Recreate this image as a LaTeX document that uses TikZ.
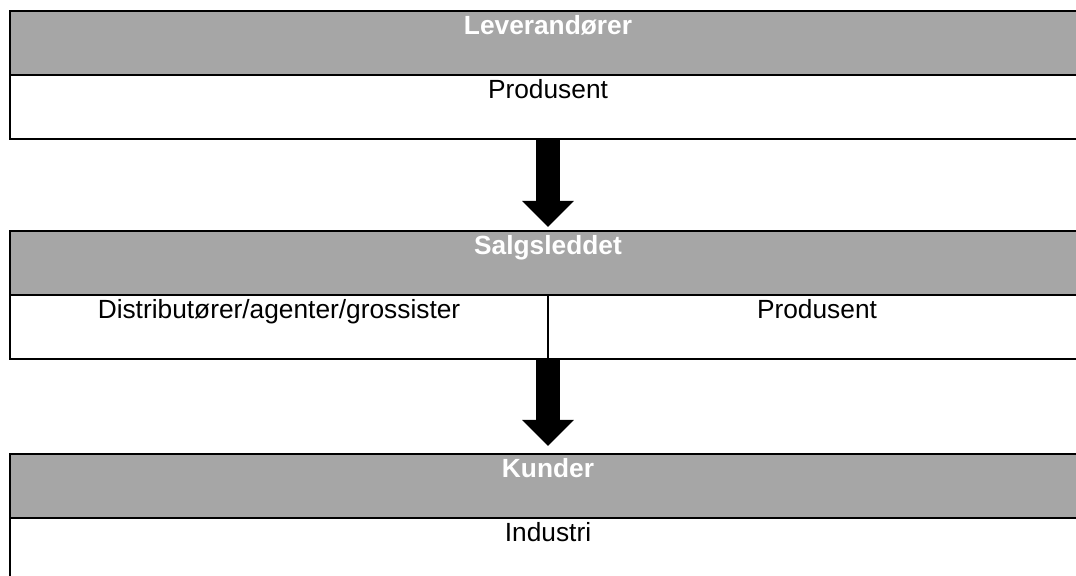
\documentclass[tikz,border=0pt]{standalone}
\usepackage{fontspec}
\setmainfont{Liberation Sans}
\usetikzlibrary{positioning,arrows.meta}
\definecolor{headgrey}{HTML}{A6A6A6}

\begin{document}
\begin{tikzpicture}[x=0.5pt,y=-0.5pt,
    cell/.style={draw, line width=1pt, outer sep=0pt, inner sep=0pt,
      minimum width=\cellw, text height=12pt, text depth=20pt,
      font=\fontsize{13.15}{15}\selectfont},
    head/.style={cell, fill=headgrey, text=white, font=\bfseries\fontsize{13.15}{15}\selectfont},
    flow/.style={line width=12pt, -{Triangle[width=25pt,length=13pt]}}]
        \def\cellw{538pt}

        \useasboundingbox (0,0) rectangle (1076,576);
        \clip (0,0) rectangle (1076,576);

        \node[head, anchor=north west] (lev) at (10,11) {Leverandører};
        \node[cell, below=0pt of lev] (prod) {Produsent};

        \node[head, anchor=north west] (salg) at (10,231) {Salgsleddet};
        \node[cell, below=0pt of salg.south west, anchor=north west, minimum width=269pt] (dist) {Distributører/agenter/grossister};
        \node[cell, right=0pt of dist, minimum width=269pt, line width=0.75pt] (prodb) {Produsent};
        \draw[line width=1pt] (dist.south west) -- (prodb.south east);

        \node[head, anchor=north west] (kund) at (10,454) {Kunder};
        \node[cell, below=0pt of kund] (ind) {Industri};

        \draw[flow, shorten >=2pt] (prod.south) -- (salg.north);
        \draw[flow, shorten >=4pt] (dist.south east) -- (kund.north);
      \end{tikzpicture}
\end{document}
